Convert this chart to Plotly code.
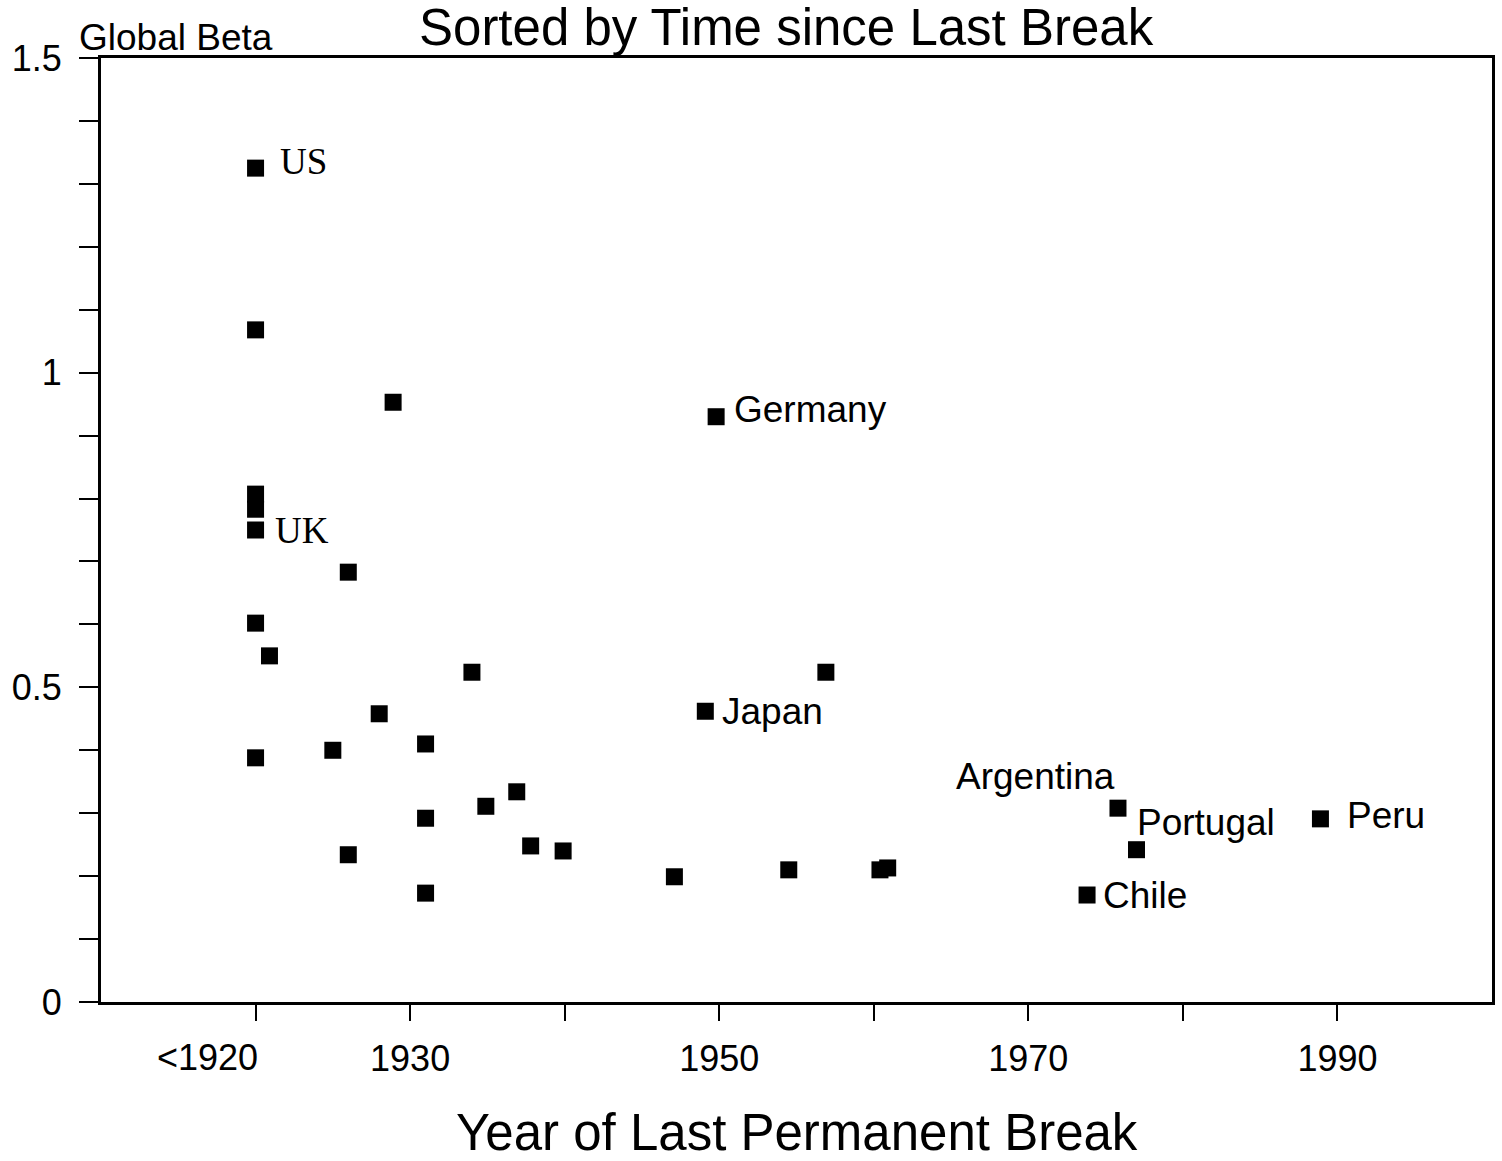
import plotly.graph_objects as go

# Data
years = [1920, 1920, 1928.9, 1949.8, 1920, 1920, 1920, 1926.0, 1920, 1920.9,
         1934.0, 1956.9, 1949.1, 1928.0, 1931.0, 1925.0, 1920, 1936.9, 1934.9,
         1975.8, 1988.9, 1931.0, 1937.8, 1939.9, 1977.0, 1926.0, 1954.5,
         1960.4, 1960.9, 1947.1, 1931.0, 1973.8]
betas = [1.325, 1.068, 0.953, 0.930, 0.807, 0.783, 0.750, 0.683, 0.602, 0.550,
         0.524, 0.524, 0.462, 0.458, 0.410, 0.400, 0.388, 0.334, 0.311,
         0.308, 0.291, 0.292, 0.248, 0.240, 0.242, 0.234, 0.210,
         0.210, 0.213, 0.199, 0.173, 0.170]

# Labelled countries: (name, index of point, x-offset px, y-offset px, anchor, font)
label_names = ["US", "UK", "Germany", "Japan", "Argentina", "Portugal", "Peru", "Chile"]
label_index = [0, 6, 3, 12, 19, 19, 20, 31]
label_dx = [22, 17, 16, 15, -1, 17, 25, 14]
label_dy = [7, 0, 7, 0, 32, -14, 3, 0]
label_anchor = ["left", "left", "left", "left", "right", "left", "left", "left"]
label_serif = [True, True, False, False, False, False, False, False]

x_tickvals = [1920, 1930, 1940, 1950, 1960, 1970, 1980, 1990]
x_ticktext = ["", "1930", "", "1950", "", "1970", "", "1990"]
first_x_label = "<1920"
y_tickvals = [round(i * 0.1, 1) for i in range(16)]
y_ticktext = ["0", "", "", "", "", "0.5", "", "", "", "", "1", "", "", "", "", "1.5"]

SANS = "Liberation Sans, Arial, sans-serif"
SERIF = "Liberation Serif, Times New Roman, serif"

fig = go.Figure()
fig.add_trace(go.Scatter(
    x=years, y=betas, mode="markers",
    marker=dict(symbol="square", size=17, color="black"),
    showlegend=False, hoverinfo="skip",
))

annotations = []
for name, idx, dx, dy, anc, serif in zip(label_names, label_index, label_dx,
                                         label_dy, label_anchor, label_serif):
    annotations.append(dict(
        x=years[idx], y=betas[idx], xref="x", yref="y", text=name,
        showarrow=False, xanchor=anc, yanchor="middle", xshift=dx, yshift=dy,
        font=dict(family=SERIF if serif else SANS, size=37, color="black"),
    ))

annotations.append(dict(
    x=x_tickvals[0], y=-0.0593, xref="x", yref="paper", text=first_x_label,
    showarrow=False, xanchor="right", yanchor="middle", xshift=4,
    font=dict(family=SANS, size=36, color="black")))
annotations.append(dict(
    x=0.493, y=1.0318, xref="paper", yref="paper",
    text="Sorted by Time since Last Break", showarrow=False,
    xanchor="center", yanchor="middle",
    font=dict(family=SANS, size=51, color="black")))
annotations.append(dict(
    x=-0.017, y=1.0212, xref="paper", yref="paper", text="Global Beta",
    showarrow=False, xanchor="left", yanchor="middle",
    font=dict(family=SANS, size=37, color="black")))
annotations.append(dict(
    x=0.5007, y=-0.1378, xref="paper", yref="paper",
    text="Year of Last Permanent Break", showarrow=False,
    xanchor="center", yanchor="middle",
    font=dict(family=SANS, size=51, color="black")))

fig.update_layout(
    width=1502, height=1161,
    margin=dict(l=101, r=7, t=58, b=159),
    paper_bgcolor="white", plot_bgcolor="white",
    annotations=annotations,
    xaxis=dict(range=[1910, 2000], tickvals=x_tickvals, ticktext=x_ticktext,
               ticks="outside", ticklen=16, tickwidth=2, tickcolor="black",
               showline=True, linecolor="black", linewidth=3, mirror=True,
               showgrid=False, zeroline=False, ticklabelstandoff=7,
               tickfont=dict(family=SANS, size=36, color="black")),
    yaxis=dict(range=[0, 1.5], tickvals=y_tickvals, ticktext=y_ticktext,
               ticks="outside", ticklen=19, tickwidth=2, tickcolor="black",
               showline=True, linecolor="black", linewidth=3, mirror=True,
               showgrid=False, zeroline=False, ticklabelstandoff=10,
               tickfont=dict(family=SANS, size=36, color="black")),
)

fig.write_html(
    "out.html",
    config={"displayModeBar": False},
    post_script="document.body.style.margin='0';document.body.style.overflow='hidden';",
)
